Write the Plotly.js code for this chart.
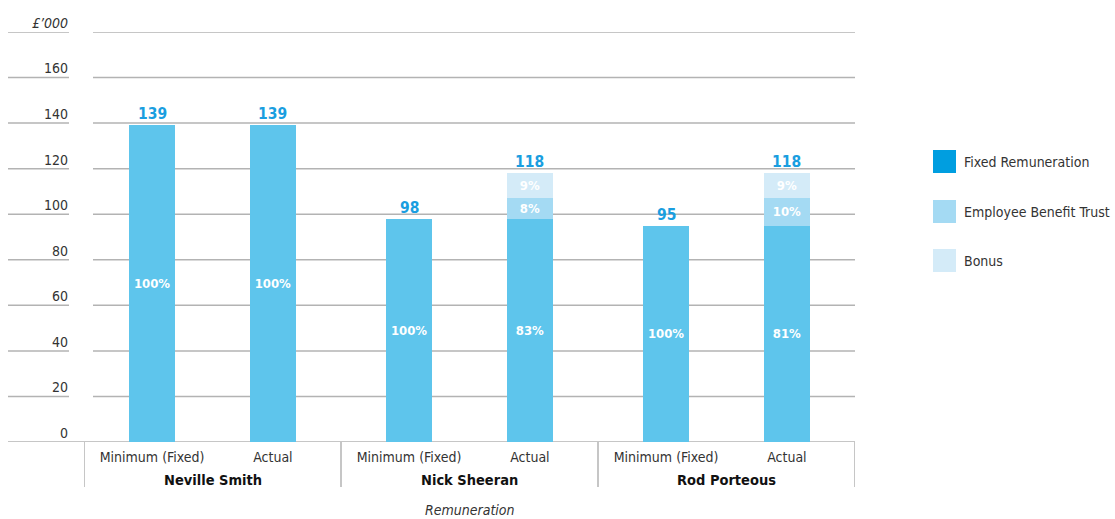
<!DOCTYPE html>
<html>
<head>
<meta charset="utf-8">
<script src="https://cdn.plot.ly/plotly-3.0.1.min.js"></script>
<style>html,body{margin:0;padding:0;background:#fff;}#chart{width:1115px;height:519px;}</style>
</head>
<body>
<div id="chart"></div>
<script>
// ---- data ----
const people = ["Neville Smith", "Nick Sheeran", "Rod Porteous"];
const scenarios = ["Minimum (Fixed)", "Actual"];
const seriesNames = ["Fixed Remuneration", "Employee Benefit Trust", "Bonus"];
// one value per bar: NS min, NS actual, NSh min, NSh actual, RP min, RP actual
const fixedVals = [139, 139, 98, 98, 95, 95];
const ebtVals   = [null, null, null, 9, null, 12];
const bonusVals = [null, null, null, 11, null, 11];
const totals    = [139, 139, 98, 118, 95, 118];
const fixedPct  = ["100%", "100%", "100%", "83%", "100%", "81%"];
const ebtPct    = ["", "", "", "8%", "", "10%"];
const bonusPct  = ["", "", "", "9%", "", "9%"];
const yTickVals = [0, 20, 40, 60, 80, 100, 120, 140, 160, 180];
const yTickText = ["0", "20", "40", "60", "80", "100", "120", "140", "160", "<i>£’000</i>"];
const xTitle = "Remuneration";

// ---- styling / layout constants ----
const FONT = "'Liberation Sans Narrow', 'DejaVu Sans Condensed', Roboto, sans-serif";
const barColors = ["#5EC5EC", "#A4DAF3", "#D4EBF8"];
const legendColors = ["#009EE0", "#A4DAF3", "#D4EBF8"];
const gridColor = "#B3B3B3";
const W = 1115, H = 519;
const L = 84, R = 855, TOP = 32, BOT = 442;
const pw = R - L, ph = BOT - TOP;
const px = v => (v - L) / pw;       // pixel -> paper x
const py = v => (BOT - v) / ph;     // pixel -> paper y
const offsets = [0.265, 0.735];
const barW = 0.179;

const xs = [];
const xTickText = [];
people.forEach((p, g) => scenarios.forEach((s, i) => { xs.push(g + offsets[i]); xTickText.push(s); }));

const insideFont = {family: FONT, size: 13, color: "#ffffff", weight: "bold"};
function barTrace(vals, txt, idx) {
  return {
    type: "bar", x: xs, y: vals, name: seriesNames[idx], width: barW,
    marker: {color: barColors[idx], line: {width: 0}},
    text: txt, textposition: "inside", insidetextanchor: "middle", textangle: 0,
    insidetextfont: insideFont, constraintext: "none",
    hoverinfo: "skip", showlegend: false, cliponaxis: false
  };
}

const traces = [
  barTrace(fixedVals, fixedPct, 0),
  barTrace(ebtVals, ebtPct, 1),
  barTrace(bonusVals, bonusPct, 2)
];

const shapes = [];
// gridlines and short label underlines
yTickVals.forEach(v => {
  shapes.push({type: "line", layer: "below", xref: "paper", yref: "y",
    x0: v === 0 ? px(8) : px(93), x1: 1, y0: v, y1: v,
    line: {color: gridColor, width: 1.5}});
  if (v !== 0) shapes.push({type: "line", layer: "below", xref: "paper", yref: "y",
    x0: px(8), x1: px(69), y0: v, y1: v, line: {color: gridColor, width: 1.5}});
});
// group dividers
for (let g = 0; g <= people.length; g++) {
  shapes.push({type: "line", layer: "below", xref: "x", yref: "paper", x0: g, x1: g,
    y0: 0, y1: py(487), line: {color: gridColor, width: 1.5}});
}
const annotations = [];
// totals above bars
xs.forEach((x, i) => annotations.push({
  xref: "x", yref: "y", x: x, y: totals[i], text: "<b>" + totals[i] + "</b>",
  showarrow: false, xanchor: "center", yanchor: "bottom", yshift: 0,
  font: {family: FONT, size: 15.5, color: "#1A9EE0"}
}));
people.forEach((p, g) => annotations.push({
  xref: "x", yref: "paper", x: g + 0.5, y: py(480), text: "<b>" + p + "</b>",
  showarrow: false, xanchor: "center", yanchor: "middle",
  font: {family: FONT, size: 14.5, color: "#111111"}
}));
// x-axis title
annotations.push({
  xref: "paper", yref: "paper", x: 0.5, y: py(510), text: "<i>" + xTitle + "</i>",
  showarrow: false, xanchor: "center", yanchor: "middle",
  font: {family: FONT, size: 14, color: "#333333"}
});
// custom legend
const legRows = [150, 200, 249];
seriesNames.forEach((n, i) => {
  shapes.push({type: "rect", xref: "paper", yref: "paper",
    x0: px(933), x1: px(956), y0: py(legRows[i]), y1: py(legRows[i] + 23),
    fillcolor: legendColors[i], line: {width: 0}});
  annotations.push({xref: "paper", yref: "paper", x: px(962), y: py(legRows[i] + 12),
    text: n, showarrow: false, xanchor: "left", yanchor: "middle",
    font: {family: FONT, size: 14, color: "#333333"}});
});

const layout = {
  width: W, height: H,
  margin: {l: L, r: W - R, t: TOP, b: H - BOT, pad: 0},
  paper_bgcolor: "#ffffff", plot_bgcolor: "#ffffff",
  barmode: "stack", showlegend: false, hovermode: false,
  font: {family: FONT, size: 14, color: "#333333"},
  xaxis: {
    range: [0, 3], fixedrange: true, showgrid: false, zeroline: false, showline: false,
    tickmode: "array", tickvals: xs, ticktext: xTickText, ticks: "",
    ticklabelstandoff: 5,
    tickfont: {family: FONT, size: 14, color: "#333333"},
    automargin: false
  },
  yaxis: {
    range: [0, 180], fixedrange: true, showgrid: false, zeroline: false, showline: false,
    tickmode: "array", tickvals: yTickVals, ticktext: yTickText, ticks: "",
    ticklabelstandoff: 15, ticklabelshift: -9,
    tickfont: {family: FONT, size: 14, color: "#333333"},
    automargin: false
  },
  shapes: shapes, annotations: annotations
};

Plotly.newPlot("chart", traces, layout, {displayModeBar: false, staticPlot: true});
</script>
</body>
</html>
